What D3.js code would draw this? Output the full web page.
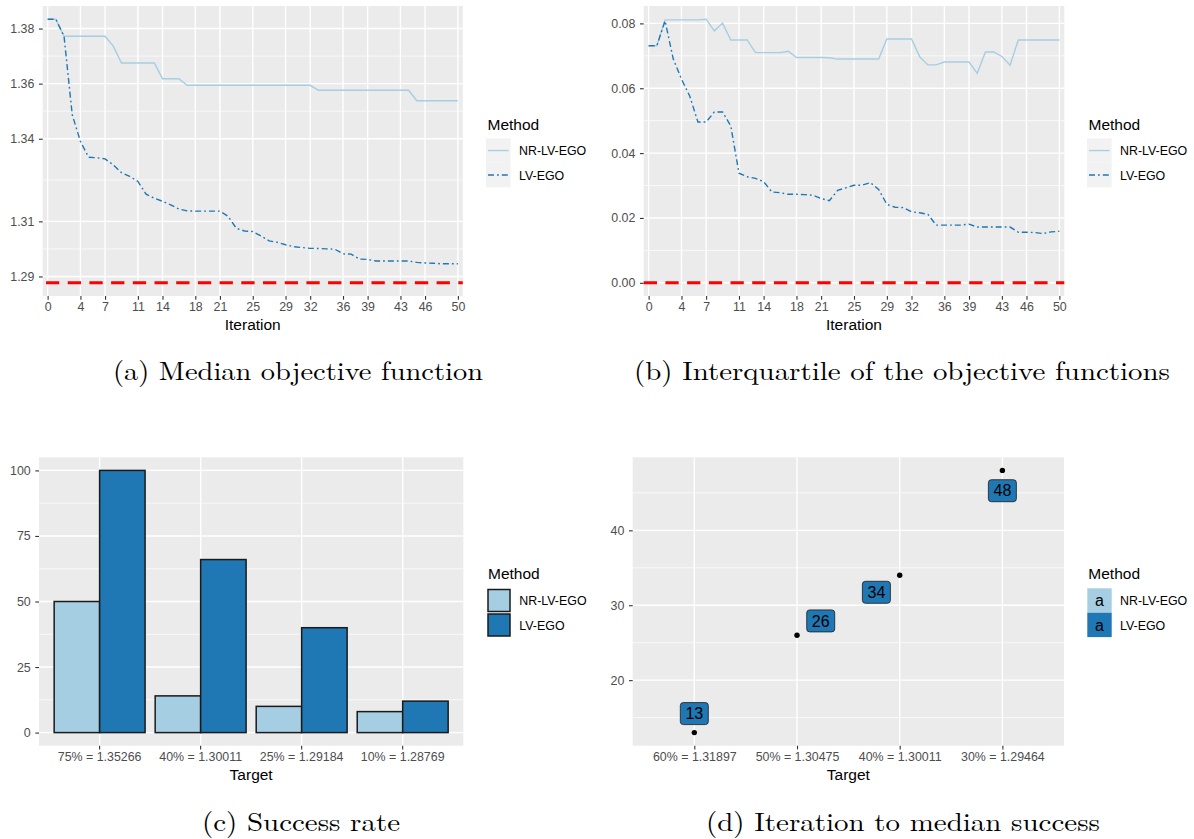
<!DOCTYPE html>
<html>
<head>
<meta charset="utf-8">
<script src="https://cdn.jsdelivr.net/npm/d3@7"></script>
<style>
  body { margin: 0; background: #fff; }
  svg text { font-family: "Liberation Sans", Arial, sans-serif; }
  svg text.caption { font-family: "Latin Modern Roman", "CMU Serif", "Liberation Serif", serif; }
</style>
</head>
<body>
<svg id="fig" width="1194" height="839"></svg>
<script>
// ---- data ----
const methods = ["NR-LV-EGO", "LV-EGO"];
const iterations = [0,1,2,3,4,5,6,7,8,9,10,11,12,13,14,15,16,17,18,19,20,21,22,23,24,25,
  26,27,28,29,30,31,32,33,34,35,36,37,38,39,40,41,42,43,44,45,46,47,48,49,50];
const iterationTicks = [0,4,7,11,14,18,21,25,29,32,36,39,43,46,50];

// (a) median of the objective function per iteration
const medianNR = [1.3834,1.3834,1.3772,1.3772,1.3772,1.3772,1.3772,1.3772,1.3736,1.3675,
  1.3675,1.3675,1.3675,1.3675,1.3618,1.3618,1.3618,1.3594,1.3594,1.3594,1.3594,1.3594,
  1.3594,1.3594,1.3594,1.3594,1.3594,1.3594,1.3594,1.3594,1.3594,1.3594,1.3594,1.3576,
  1.3576,1.3576,1.3576,1.3576,1.3576,1.3576,1.3576,1.3576,1.3576,1.3576,1.3576,1.3538,
  1.3538,1.3538,1.3538,1.3538,1.3538];
const medianLV = [1.3834,1.3834,1.3772,1.3487,1.3390,1.3333,1.3331,1.3327,1.3305,1.3277,
  1.3263,1.3245,1.3199,1.3184,1.3173,1.3160,1.3145,1.3138,1.3137,1.3137,1.3137,1.3137,
  1.3118,1.3075,1.3065,1.3063,1.3047,1.3029,1.3024,1.3015,1.3008,1.3005,1.3002,1.30015,
  1.3000,1.2999,1.2982,1.2981,1.2963,1.2962,1.2956,1.2956,1.2956,1.2956,1.2956,1.2951,
  1.2949,1.2948,1.2946,1.2946,1.2946];
const medianReference = 1.28769;
const medianTicks = [1.29,1.31,1.34,1.36,1.38];

// (b) interquartile range of the objective functions per iteration
const iqrNR = [0.0731,0.0731,0.0811,0.0811,0.0811,0.0811,0.0811,0.0813,0.0777,0.0801,
  0.0749,0.0749,0.0749,0.0710,0.0710,0.0710,0.0710,0.0714,0.0695,0.0695,0.0695,0.0695,
  0.0694,0.0690,0.0690,0.0690,0.0690,0.0690,0.0690,0.0752,0.0752,0.0752,0.0752,0.0697,
  0.0672,0.0672,0.0681,0.0681,0.0681,0.0681,0.0646,0.0712,0.0712,0.0698,0.0671,0.0749,
  0.0749,0.0749,0.0749,0.0749,0.0749];
const iqrLV = [0.0731,0.0731,0.0808,0.0690,0.0628,0.0576,0.0496,0.0496,0.0527,0.0527,
  0.0484,0.0338,0.0327,0.0322,0.0312,0.0280,0.0278,0.0273,0.0273,0.0272,0.0270,0.0260,
  0.0253,0.0285,0.0293,0.0301,0.0301,0.0309,0.0288,0.0242,0.0233,0.0232,0.0219,0.0216,
  0.0211,0.0178,0.0178,0.0178,0.0178,0.0181,0.0172,0.0172,0.0172,0.0172,0.0172,0.0156,
  0.0156,0.0155,0.0152,0.0157,0.0159];
const iqrReference = 0;
const iqrTicks = [0,0.02,0.04,0.06,0.08];

// (c) success rate per target
const successTargets = ["75% = 1.35266","40% = 1.30011","25% = 1.29184","10% = 1.28769"];
const successNR = [50,14,10,8];
const successLV = [100,66,40,12];
const successTicks = [0,25,50,75,100];

// (d) iteration at which the median reaches each target (LV-EGO)
const medianTargets = ["60% = 1.31897","50% = 1.30475","40% = 1.30011","30% = 1.29464"];
const iterationToSuccess = [13,26,34,48];
const iterationTicksD = [20,30,40];

const captions = [
  "(a) Median objective function",
  "(b) Interquartile of the objective functions",
  "(c) Success rate",
  "(d) Iteration to median success"
];

// ---- styling ----
const colour = { "NR-LV-EGO": "#a6cee3", "LV-EGO": "#1f78b4" };
const PANEL_BG = "#ebebeb";
const TICK_TXT = "#4d4d4d";
const TICK_FS = 12.4;
const TITLE_FS = 15.5;

const svg = d3.select("#fig");
svg.append("rect").attr("width", 1194).attr("height", 839).attr("fill", "#fff");

// continuous scale with ggplot-style 5% expansion
function expandedLinear(values, range) {
  const [lo, hi] = d3.extent(values);
  const pad = (hi - lo) * 0.05;
  return d3.scaleLinear().domain([lo - pad, hi + pad]).range(range);
}
// minor breaks halfway between major breaks (and one step beyond each end)
function minorBreaks(ticks, scale) {
  const out = [];
  for (let i = 0; i < ticks.length - 1; i++) out.push((ticks[i] + ticks[i + 1]) / 2);
  const s0 = ticks[1] - ticks[0], s1 = ticks[ticks.length - 1] - ticks[ticks.length - 2];
  out.push(ticks[0] - s0 / 2, ticks[ticks.length - 1] + s1 / 2);
  const [a, b] = scale.domain();
  return out.filter(v => v >= Math.min(a, b) && v <= Math.max(a, b));
}

function styleAxis(ax) {
  ax.select(".domain").remove();
  ax.selectAll(".tick line").attr("stroke", "#333").attr("stroke-width", 1.1);
  ax.selectAll(".tick text")
    .attr("fill", TICK_TXT)
    .attr("font-size", TICK_FS);
}

// background, grid, axes and x title for one panel
function panelFrame(box, x, xTicks, y, yTicks, yFormat, xTitle) {
  const g = svg.append("g");
  g.append("rect").attr("x", box.l).attr("y", box.t)
    .attr("width", box.r - box.l).attr("height", box.b - box.t).attr("fill", PANEL_BG);
  const xc = v => x(v) + (x.bandwidth ? x.bandwidth() / 2 : 0);
  g.selectAll(null).data(minorBreaks(yTicks, y)).join("line")
    .attr("x1", box.l).attr("x2", box.r).attr("y1", d => y(d)).attr("y2", d => y(d))
    .attr("stroke", "#fff").attr("stroke-width", 0.7);
  g.selectAll(null).data(yTicks).join("line")
    .attr("x1", box.l).attr("x2", box.r).attr("y1", d => y(d)).attr("y2", d => y(d))
    .attr("stroke", "#fff").attr("stroke-width", 1.4);
  g.selectAll(null).data(xTicks).join("line")
    .attr("x1", d => xc(d)).attr("x2", d => xc(d)).attr("y1", box.t).attr("y2", box.b)
    .attr("stroke", "#fff").attr("stroke-width", 1.4);

  const ay = g.append("g").attr("transform", `translate(${box.l},0)`)
    .call(d3.axisLeft(y).tickValues(yTicks).tickFormat(yFormat)
      .tickSize(3.7).tickSizeOuter(0).tickPadding(4.6));
  styleAxis(ay);
  const ax = g.append("g").attr("transform", `translate(0,${box.b})`)
    .call(d3.axisBottom(x).tickValues(xTicks).tickSize(3.7).tickSizeOuter(0).tickPadding(2.5));
  styleAxis(ax);

  g.append("text").attr("x", (box.l + box.r) / 2).attr("y", box.b + 29)
    .attr("dy", "0.35em").attr("text-anchor", "middle")
    .attr("font-size", TITLE_FS).attr("fill", "#000").text(xTitle);
  return g;
}

function legendTitle(x, y) {
  svg.append("text").attr("x", x).attr("y", y).attr("dy", "0.35em")
    .attr("font-size", TITLE_FS).attr("fill", "#000").text("Method");
}
function legendLabel(x, y, t) {
  svg.append("text").attr("x", x).attr("y", y).attr("dy", "0.35em")
    .attr("font-size", TICK_FS).attr("fill", "#000").text(t);
}

const dashLV = "6,3,1.8,3";

// ---- line panels (a) and (b) ----
function linePanel(box, nr, lv, ref, yTicks, yFormat, legendX, refOffset) {
  const x = d3.scalePoint().domain(iterations).range([box.l, box.r]).padding(0.6);
  const y = expandedLinear(nr.concat(lv, [ref]), [box.b, box.t]);
  const g = panelFrame(box, x, iterationTicks, y, yTicks, yFormat, "Iteration");

  const line = d3.line().x((d, i) => x(iterations[i])).y(d => y(d));
  g.append("path").datum(nr).attr("d", line).attr("fill", "none")
    .attr("stroke", colour["NR-LV-EGO"]).attr("stroke-width", 1.4);
  g.append("path").datum(lv).attr("d", line).attr("fill", "none")
    .attr("stroke", colour["LV-EGO"]).attr("stroke-width", 1.4)
    .attr("stroke-dasharray", dashLV);

  g.append("line").attr("x1", box.l).attr("x2", box.r)
    .attr("y1", y(ref)).attr("y2", y(ref))
    .attr("stroke", "#ff0000").attr("stroke-width", 3)
    .attr("stroke-dasharray", "13.3,8.4").attr("stroke-dashoffset", refOffset);

  // legend
  legendTitle(legendX + 1.5, 125);
  const keyY = [138.3, 162.8];
  methods.forEach((m, i) => {
    svg.append("rect").attr("x", legendX).attr("y", keyY[i]).attr("width", 24.6).attr("height", 24.5)
      .attr("fill", "#f2f2f2");
    svg.append("line").attr("x1", legendX + 2).attr("x2", legendX + 22.6)
      .attr("y1", keyY[i] + 12.25).attr("y2", keyY[i] + 12.25)
      .attr("stroke", colour[m]).attr("stroke-width", 1.4)
      .attr("stroke-dasharray", m === "LV-EGO" ? dashLV : null);
    legendLabel(legendX + 33, keyY[i] + 12.7, m);
  });
}

linePanel({ l: 42.7, r: 462.8, t: 6, b: 296 }, medianNR, medianLV, medianReference,
  medianTicks, d3.format(".2f"), 486, 18.4);
linePanel({ l: 643.7, r: 1064.3, t: 6, b: 296 }, iqrNR, iqrLV, iqrReference,
  iqrTicks, d3.format(".2f"), 1087, 0);

// ---- (c) success rate bars ----
{
  const box = { l: 39, r: 463.3, t: 457.3, b: 745.7 };
  const x = d3.scaleBand().domain(successTargets).range([box.l, box.r])
    .paddingInner(0.1).paddingOuter(0.15);
  const xm = d3.scaleBand().domain(methods).range([0, x.bandwidth()]);
  const y = expandedLinear([0].concat(successNR, successLV, [100]), [box.b, box.t]);
  const g = panelFrame(box, x, successTargets, y, successTicks, d3.format("d"), "Target");

  const rows = [];
  successTargets.forEach((t, i) => {
    rows.push({ target: t, method: "NR-LV-EGO", value: successNR[i] });
    rows.push({ target: t, method: "LV-EGO", value: successLV[i] });
  });
  g.selectAll(null).data(rows).join("rect")
    .attr("x", d => x(d.target) + xm(d.method))
    .attr("width", xm.bandwidth())
    .attr("y", d => y(d.value))
    .attr("height", d => y(0) - y(d.value))
    .attr("fill", d => colour[d.method])
    .attr("stroke", "#1a1a1a").attr("stroke-width", 1.5);

  legendTitle(488, 574);
  const keyY = [589.5, 614];
  methods.forEach((m, i) => {
    svg.append("rect").attr("x", 488).attr("y", keyY[i]).attr("width", 22).attr("height", 22)
      .attr("fill", colour[m]).attr("stroke", "#1a1a1a").attr("stroke-width", 1.5);
    legendLabel(519.3, keyY[i] + 11.5, m);
  });
}

// ---- (d) iteration to median success ----
{
  const box = { l: 632.7, r: 1064, t: 457.3, b: 745.7 };
  const x = d3.scalePoint().domain(medianTargets).range([box.l, box.r]).padding(0.6);
  const y = expandedLinear(iterationToSuccess, [box.b, box.t]);
  const g = panelFrame(box, x, medianTargets, y, iterationTicksD, d3.format("d"), "Target");

  const pts = medianTargets.map((t, i) => ({ target: t, value: iterationToSuccess[i] }));
  g.selectAll(null).data(pts).join("circle")
    .attr("cx", d => x(d.target)).attr("cy", d => y(d.value))
    .attr("r", 2.7).attr("fill", "#000");

  // repelled label positions relative to each point
  const shift = [[0, -19], [23.7, -14.3], [-23.3, 17], [0, 20.3]];
  const lab = g.selectAll(null).data(pts).join("g")
    .attr("transform", (d, i) => `translate(${x(d.target) + shift[i][0]},${y(d.value) + shift[i][1]})`);
  lab.append("rect").attr("x", -14).attr("y", -11).attr("width", 28).attr("height", 22)
    .attr("rx", 3).attr("fill", colour["LV-EGO"]).attr("stroke", "#1a1a1a").attr("stroke-width", 0.8);
  lab.append("text").attr("text-anchor", "middle").attr("dy", "0.36em")
    .attr("font-size", 16).attr("fill", "#000").text(d => d.value);

  legendTitle(1088.3, 574);
  const keyY = [588.3, 612.7];
  methods.forEach((m, i) => {
    svg.append("rect").attr("x", 1087.3).attr("y", keyY[i]).attr("width", 24.4).attr("height", 24.4)
      .attr("fill", colour[m]);
    svg.append("text").attr("x", 1087.3 + 12.2).attr("y", keyY[i] + 12.2).attr("dy", "0.35em")
      .attr("text-anchor", "middle").attr("font-size", 16).attr("fill", "#000").text("a");
    legendLabel(1120, keyY[i] + 12.5, m);
  });
}

// ---- sub-figure captions ----
const capPos = [
  { x: 113, y: 380, w: 370 },
  { x: 634, y: 380, w: 536 },
  { x: 202, y: 831, w: 198 },
  { x: 706, y: 831, w: 394 }
];
captions.forEach((c, i) => {
  svg.append("text").attr("class", "caption")
    .attr("x", capPos[i].x).attr("y", capPos[i].y)
    .attr("font-size", 26).attr("fill", "#000")
    .attr("textLength", capPos[i].w).attr("lengthAdjust", "spacingAndGlyphs")
    .text(c);
});
</script>
</body>
</html>
